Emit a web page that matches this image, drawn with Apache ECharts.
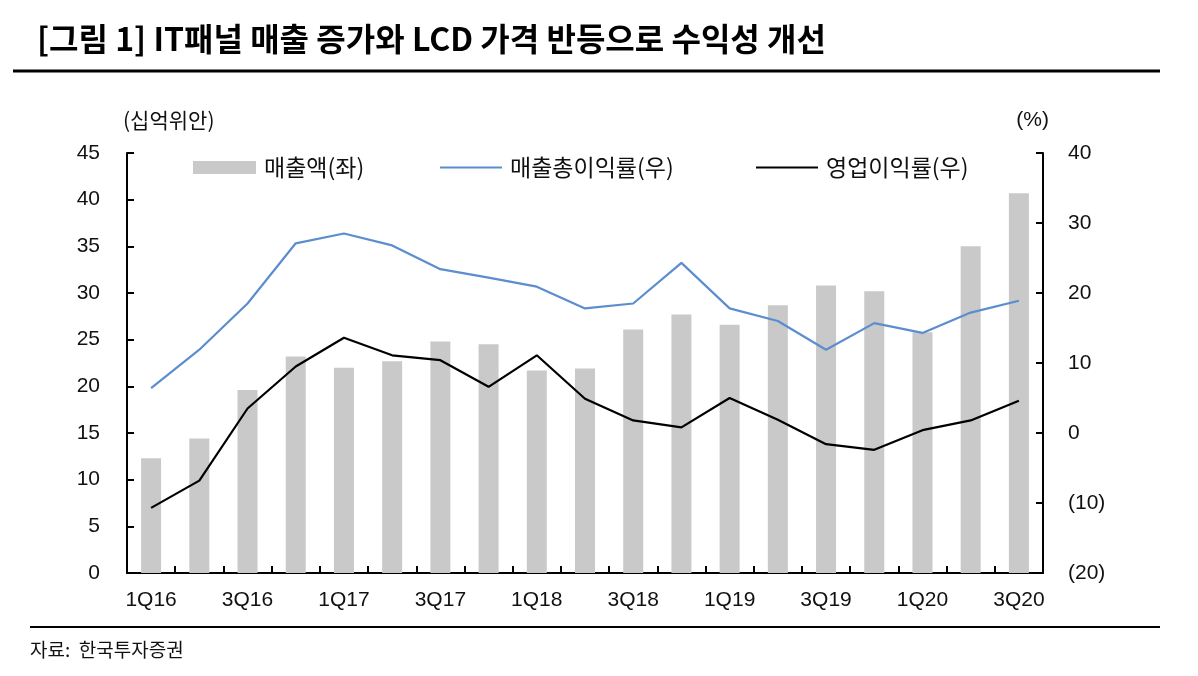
<!DOCTYPE html>
<html><head><meta charset="utf-8">
<script src="https://cdn.jsdelivr.net/npm/echarts@6/dist/echarts.min.js"></script>
<style>html,body{margin:0;padding:0;background:#fff}#c{width:1198px;height:676px}</style>
</head><body><div id="c"></div>
<script>
const categories = ['1Q16','2Q16','3Q16','4Q16','1Q17','2Q17','3Q17','4Q17','1Q18','2Q18','3Q18','4Q18','1Q19','2Q19','3Q19','4Q19','1Q20','2Q20','3Q20'];
const revenue = [12.3,14.4,19.6,23.2,22.0,22.7,24.8,24.5,21.7,21.9,26.1,27.7,26.6,28.7,30.8,30.2,25.8,35.0,40.7];
const grossMargin = [6.4,11.9,18.5,27.1,28.5,26.8,23.4,22.2,20.9,17.8,18.5,24.3,17.8,16.0,11.9,15.7,14.3,17.2,18.9];
const opMargin = [-10.7,-6.8,3.5,9.5,13.6,11.1,10.4,6.6,11.1,4.9,1.8,0.8,5.0,1.9,-1.6,-2.4,0.4,1.8,4.6];
const names = ['매출액(좌)','매출총이익률(우)','영업이익률(우)'];

const FONT = "'Liberation Sans','Noto Sans CJK KR',sans-serif";
const KFONT = "'Noto Sans CJK KR','Liberation Sans',sans-serif";
const chart = echarts.init(document.getElementById('c'));
const legendText = {fontFamily:KFONT, fontSize:23, color:'#111', padding:[0,0,0,3]};
chart.setOption({
  animation:false,
  textStyle:{fontFamily:FONT},
  grid:{left:127, right:155, top:153, bottom:103},
  legend:[
    {top:151, left:188, itemWidth:63, itemHeight:13, selectedMode:false, textStyle:legendText, data:[{name:names[0], icon:'rect'}]},
    {top:151, left:435, itemWidth:62, itemHeight:2, selectedMode:false, textStyle:legendText, data:[{name:names[1], icon:'rect'}]},
    {top:151, left:751, itemWidth:62, itemHeight:2, selectedMode:false, textStyle:legendText, data:[{name:names[2], icon:'rect'}]}
  ],
  graphic:[
    {type:'text', left:37, top:23, style:{text:'[그림 1] IT패널 매출 증가와 LCD 가격 반등으로 수익성 개선', font:"bold 32px 'Noto Sans CJK KR'", fill:'#000'}},
    {type:'line', shape:{x1:13,y1:71,x2:1160,y2:71}, style:{stroke:'#000', lineWidth:3}},
    {type:'line', shape:{x1:30,y1:627,x2:1160,y2:627}, style:{stroke:'#000', lineWidth:2}},
    {type:'text', left:30, top:640, style:{text:'자료:  한국투자증권', font:"19px 'Noto Sans CJK KR'", fill:'#111'}}
  ],
  xAxis:{
    type:'category', data:categories, boundaryGap:true,
    axisLine:{lineStyle:{color:'#000', width:2}},
    axisTick:{show:true, inside:true, length:7, interval:0, lineStyle:{color:'#000', width:2}},
    axisLabel:{interval:1, margin:17, fontSize:21, color:'#111', fontFamily:FONT}
  },
  yAxis:[
    {type:'value', min:0, max:45, interval:5, position:'left',
     name:'(십억위안)', nameLocation:'end', nameGap:22,
     nameTextStyle:{align:'left', fontFamily:KFONT, fontSize:21, color:'#111', padding:[0,0,0,-4]},
     axisLine:{show:true, lineStyle:{color:'#000', width:2}},
     axisTick:{show:true, inside:true, length:7, lineStyle:{color:'#000', width:2}},
     axisLabel:{margin:27, fontSize:21, color:'#111', fontFamily:FONT},
     splitLine:{show:false}},
    {type:'value', min:-20, max:40, interval:10, position:'right',
     name:'(%)', nameLocation:'end', nameGap:22,
     nameTextStyle:{align:'right', fontFamily:FONT, fontSize:21, color:'#111', padding:[0,-6,0,0]},
     axisLine:{show:true, lineStyle:{color:'#000', width:2}},
     axisTick:{show:true, inside:true, length:7, lineStyle:{color:'#000', width:2}},
     axisLabel:{margin:25, fontSize:21, color:'#111', fontFamily:FONT,
       formatter:v => v < 0 ? '(' + Math.abs(v) + ')' : String(v)},
     splitLine:{show:false}}
  ],
  series:[
    {name:names[0], type:'bar', yAxisIndex:0, data:revenue, barWidth:20, itemStyle:{color:'#c9c9c9'}},
    {name:names[1], type:'line', yAxisIndex:1, data:grossMargin, symbol:'none', lineStyle:{color:'#5b8dcf', width:2.2}, itemStyle:{color:'#5b8dcf'}},
    {name:names[2], type:'line', yAxisIndex:1, data:opMargin, symbol:'none', lineStyle:{color:'#000', width:2.2}, itemStyle:{color:'#000'}}
  ]
});
</script></body></html>
